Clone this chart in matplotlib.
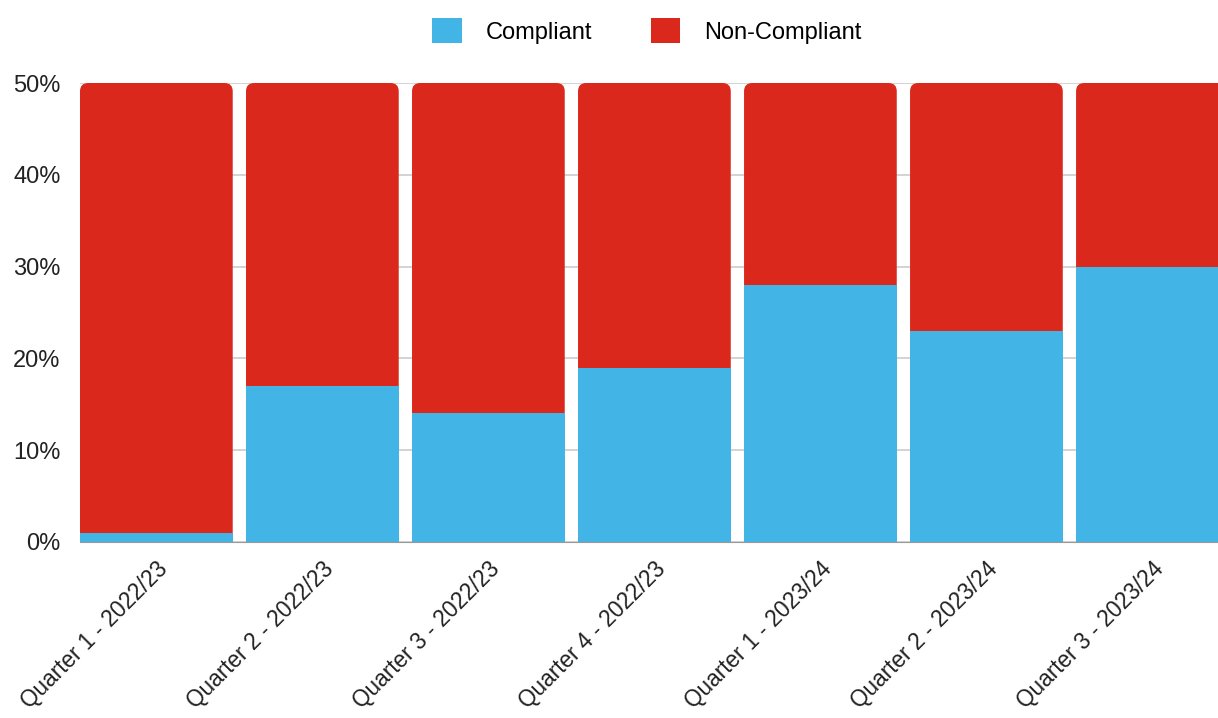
import matplotlib.pyplot as plt
from matplotlib.patches import FancyBboxPatch, Patch
import numpy as np

plt.rcParams['font.family'] = ['Liberation Sans', 'DejaVu Sans']

# Datos
quarters = ["Quarter 1 - 2022/23", "Quarter 2 - 2022/23", "Quarter 3 - 2022/23",
            "Quarter 4 - 2022/23", "Quarter 1 - 2023/24", "Quarter 2 - 2023/24",
            "Quarter 3 - 2023/24"]
compliant = [1, 17, 14, 19, 28, 23, 30]
non_compliant = [49, 33, 36, 31, 22, 27, 20]

azul = '#42B4E6'
rojo = '#DA291C'

fig = plt.figure(figsize=(12.18, 7.18), dpi=100)
ax = fig.add_axes([80 / 1218, 1 - 542 / 718, 1 - 80 / 1218, (542 - 83) / 718])

x = np.arange(len(quarters))
ancho = 0.92
ax.set_xlim(-0.46, 6.395)
ax.set_ylim(0, 50)

# barras con esquinas redondeadas (pila completa en rojo, compliant encima en azul)
for xi, c, n in zip(x, compliant, non_compliant):
    caja = FancyBboxPatch((xi - ancho / 2, 0), ancho, c + n,
                          boxstyle="round,pad=0,rounding_size=0.05",
                          mutation_aspect=18, facecolor=rojo, edgecolor='none', zorder=2)
    ax.add_patch(caja)
ax.bar(x, compliant, width=ancho, color=azul, zorder=3)

ax.set_yticks(np.arange(0, 51, 10))
ax.set_yticklabels([f"{v}%" for v in range(0, 51, 10)], fontsize=17, color='#222222')
ax.set_xticks(x)
ax.set_xticklabels(quarters, rotation=45, ha='right', va='top', rotation_mode='anchor',
                   fontsize=16.3, color='#222222')
ax.tick_params(axis='y', length=0, pad=14)
ax.tick_params(axis='x', length=0, pad=11)

ax.grid(axis='y', color='#cccccc', linewidth=1.2, zorder=0)
ax.set_axisbelow(True)
for s in ['top', 'right', 'left']:
    ax.spines[s].set_visible(False)
ax.spines['bottom'].set_color('#999999')
ax.spines['bottom'].set_zorder(4)

handles = [Patch(facecolor=azul, label='Compliant'), Patch(facecolor=rojo, label='Non-Compliant')]
fig.legend(handles=handles, loc='center', bbox_to_anchor=(0.531, 1 - 31 / 718), ncol=2,
           frameon=False, fontsize=17, handlelength=1.25, handleheight=1.25,
           columnspacing=2.5, handletextpad=1.0)

plt.savefig('out.png', dpi=100)
